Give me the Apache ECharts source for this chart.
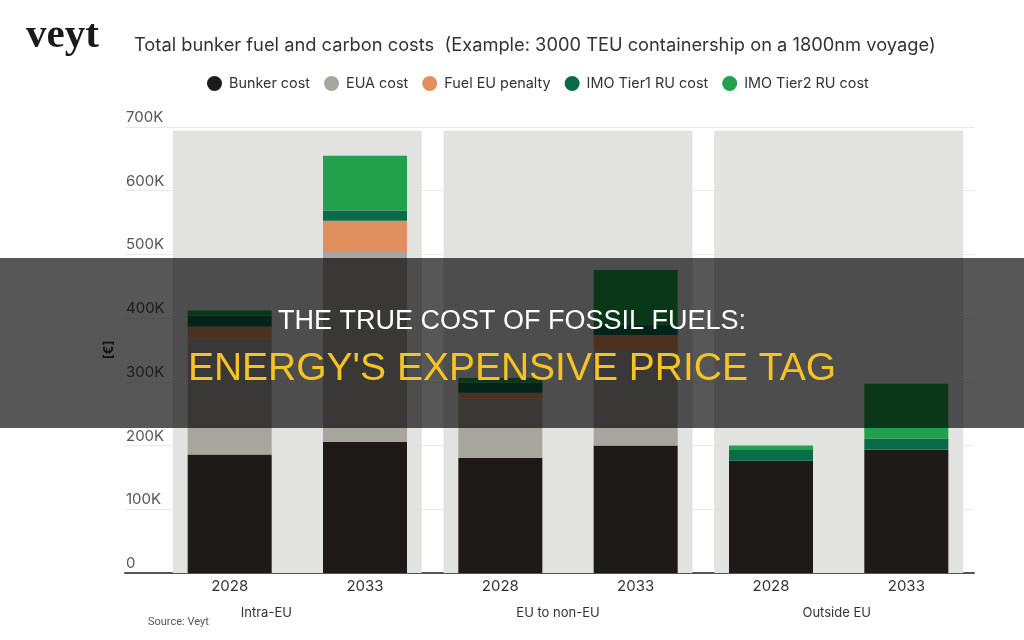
<!DOCTYPE html>
<html>
<head>
<meta charset="utf-8">
<script src="https://cdn.jsdelivr.net/npm/echarts@6/dist/echarts.min.js"></script>
<style>
html,body{margin:0;padding:0;background:#fff;}
#chart{width:1024px;height:640px;}
</style>
</head>
<body>
<div id="chart"></div>
<script>
// ---- data ----
const years = ['2028', '2033', '2028', '2033', '2028', '2033'];
const groups = ['Intra-EU', 'EU to non-EU', 'Outside EU'];
const seriesNames = ['Bunker cost', 'EUA cost', 'Fuel EU penalty', 'IMO Tier1 RU cost', 'IMO Tier2 RU cost'];
const bunkerCost = [186000, 206000, 181000, 200000, 176000, 194000];
const euaCost = [182000, 298000, 93000, 150000, 0, 0];
const fuelEuPenalty = [19000, 49000, 9000, 23500, 0, 0];
const imoTier1 = [17000, 16000, 16000, 16000, 17000, 17000];
const imoTier2 = [8000, 86000, 7000, 86000, 7000, 86000];
const groupBand = [694000, 694000, 694000];
const yMax = 700000;
const yStep = 100000;

const colors = ['#1d1a17', '#a6a59e', '#e0905f', '#0a6b4a', '#22a04b'];
const values = [bunkerCost, euaCost, fuelEuPenalty, imoTier1, imoTier2];

const chart = echarts.init(document.getElementById('chart'), null, {renderer: 'canvas'});
const FONT = 'Inter, "Noto Sans", sans-serif';

const dataSeries = seriesNames.map((name, i) => ({
  name: name,
  type: 'bar',
  stack: 'total',
  xAxisIndex: 1,
  yAxisIndex: 1,
  barWidth: 84,
  itemStyle: {color: colors[i]},
  data: values[i]
}));

const option = {
  animation: false,
  backgroundColor: '#ffffff',
  color: colors,
  title: {
    text: 'Total bunker fuel and carbon costs  (Example: 3000 TEU containership on a 1800nm voyage)',
    left: 129,
    top: 32,
    textStyle: {fontFamily: FONT, fontSize: 18.3, fontWeight: 'normal', color: '#333333'}
  },
  legend: {
    data: seriesNames,
    left: 202,
    top: 71,
    icon: 'circle',
    itemWidth: 15,
    itemHeight: 15,
    itemGap: 14,
    textStyle: {fontFamily: FONT, fontSize: 14.4, color: '#333333', padding: [0, 0, 0, 2]}
  },
  grid: [
    {left: 125, right: 50, top: 127, bottom: 67},
    {left: 162, right: 50, top: 127, bottom: 67}
  ],
  xAxis: [
    {
      type: 'value', gridIndex: 0, min: 0, max: 1,
      axisLine: {show: true, lineStyle: {color: '#555555', width: 2}},
      axisTick: {show: false}, axisLabel: {show: false}, splitLine: {show: false}
    },
    {
      type: 'category', gridIndex: 1, position: 'bottom', data: years,
      axisLine: {show: false}, axisTick: {show: false},
      axisLabel: {margin: 6, fontFamily: FONT, fontSize: 15, color: '#333333'}
    },
    {
      type: 'category', gridIndex: 1, position: 'bottom', data: groups,
      axisLine: {show: false}, axisTick: {show: false},
      axisLabel: {
        margin: 34, fontFamily: FONT, fontSize: 13, color: '#333333',
        formatter: function (v, i) { return '{g' + i + '|' + v + '}'; },
        rich: {
          g0: {fontFamily: FONT, fontSize: 13, color: '#333333', padding: [0, 62, 0, 0]},
          g1: {fontFamily: FONT, fontSize: 13, color: '#333333', padding: [0, 20, 0, 0]},
          g2: {fontFamily: FONT, fontSize: 13, color: '#333333', padding: [0, 4, 0, 0]}
        }
      }
    }
  ],
  yAxis: [
    {
      type: 'value', gridIndex: 0, min: 0, max: yMax, interval: yStep,
      name: '[€]', nameLocation: 'middle', nameRotate: 90, nameGap: 8,
      nameTextStyle: {fontFamily: FONT, fontSize: 13, fontWeight: 'bold', color: '#333333'},
      axisLine: {show: false}, axisTick: {show: false},
      axisLabel: {
        inside: true, margin: 1, verticalAlign: 'bottom', padding: [0, 0, 2, 0],
        fontFamily: FONT, fontSize: 15, color: '#555555',
        formatter: function (v) { return v === 0 ? '0' : (v / 1000) + 'K'; }
      },
      splitLine: {show: true, lineStyle: {color: '#e9e9e9', width: 1}}
    },
    {
      type: 'value', gridIndex: 1, min: 0, max: yMax, interval: yStep,
      axisLine: {show: false}, axisTick: {show: false}, axisLabel: {show: false}, splitLine: {show: false}
    }
  ],
  series: [
    {
      name: 'band', type: 'bar', xAxisIndex: 2, yAxisIndex: 1, barWidth: 249,
      silent: true, itemStyle: {color: '#e2e2e0'}, data: groupBand, z: 1
    }
  ].concat(dataSeries),
  graphic: [
    {
      type: 'text', left: 26, top: 16, z: 10,
      style: {text: 'veyt', font: 'bold 41px "Liberation Serif", serif', fill: '#1a1a1a'}
    },
    {
      type: 'text', left: 148, top: 617, z: 10,
      style: {text: 'Source: Veyt', font: '11px Roboto, sans-serif', fill: '#555555'}
    },
    {
      type: 'rect', left: 0, top: 258, z: 100,
      shape: {width: 1024, height: 170},
      style: {fill: 'rgba(0,0,0,0.66)'}
    },
    {
      type: 'text', left: 'center', top: 308, z: 101,
      style: {text: 'THE TRUE COST OF FOSSIL FUELS:', font: '27px "Liberation Sans", Arial, sans-serif', fill: '#ffffff'}
    },
    {
      type: 'text', left: 'center', top: 350, z: 101,
      style: {text: "ENERGY'S EXPENSIVE PRICE TAG", font: '39px "Liberation Sans", Arial, sans-serif', fill: '#f5c323'}
    }
  ]
};
chart.setOption(option);
</script>
</body>
</html>
